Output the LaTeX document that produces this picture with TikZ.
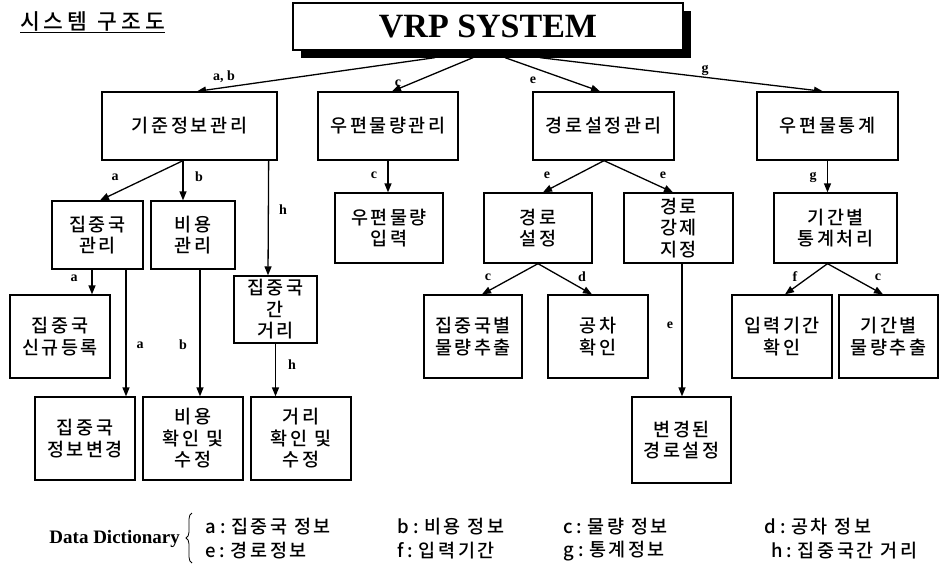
\documentclass[tikz,border=0pt]{standalone}
\usepackage{fontspec}
\setmainfont{Liberation Serif}
\newfontfamily\kr{Noto Sans CJK KR}[UprightFont=* Medium, LetterSpace=14]
\newfontfamily\krt{Noto Sans CJK KR}[UprightFont=* Medium, LetterSpace=18]
\newfontfamily\krd{Noto Sans CJK KR}[UprightFont=* Medium, LetterSpace=14]
\newfontfamily\krn{Noto Sans CJK KR}[UprightFont=* Medium]
\newcommand\dkey[1]{{\krn #1 : }}
\usetikzlibrary{arrows.meta,shadows,backgrounds,decorations.pathreplacing}
\begin{document}
\begin{tikzpicture}[x=1pt,y=-1pt,
  box/.style={draw, line width=1.3pt, fill=white, inner sep=0pt, align=center,
    font=\kr\fontsize{18.5}{21.5}\selectfont},
  arr/.style={line width=1.3pt, -{Triangle[length=9pt,width=7pt]}},
  lbl/.style={font=\bfseries\fontsize{14}{14}\selectfont, inner sep=0pt},
  dict/.style={anchor=west, inner sep=0pt, font=\krd\fontsize{18.5}{18.5}\selectfont}]
\useasboundingbox (0,0) rectangle (941,568);
% title
\node[font=\krt\fontsize{21.5}{21.5}\selectfont, inner sep=0pt, anchor=west] (title) at (20,21) {시스템\hspace{2pt} 구조도};
\draw[line width=1.3pt] ([yshift=-1.5pt]title.south west) -- ([yshift=-1.5pt]title.south east);
% top
\node[box, minimum width=390pt, minimum height=47pt,
  drop shadow={shadow xshift=8pt, shadow yshift=-8pt, fill=black, opacity=1},
  font=\bfseries\fontsize{34}{34}\selectfont] (vrp) at (488,26.5) {VRP SYSTEM};
% level 1
\node[box, minimum width=175pt, minimum height=68pt] (kijun) at (189.5,126) {기준정보관리};
\node[box, minimum width=140pt, minimum height=68pt] (upyeon) at (388,126) {우편물량관리};
\node[box, minimum width=141pt, minimum height=68pt] (kyeongro) at (603.5,126) {경로설정관리};
\node[box, minimum width=141pt, minimum height=68pt] (tonggye) at (827.5,126) {우편물통계};
% level 2
\node[box, minimum width=91pt, minimum height=68pt] (jjg) at (97.5,235) {집중국\\관리};
\node[box, minimum width=84pt, minimum height=68pt] (biyong) at (193,235) {비용\\관리};
\node[box, minimum width=83pt, minimum height=67pt] (geori) at (275.5,309.5) {집중국\\간\\거리};
\node[box, minimum width=108pt, minimum height=70pt] (input) at (389,228) {우편물량\\입력};
\node[box, minimum width=108pt, minimum height=70pt] (route) at (538,228) {경로\\설정};
\node[box, minimum width=109pt, minimum height=70pt] (force) at (678.5,228) {경로\\강제\\지정};
\node[box, minimum width=123pt, minimum height=70pt] (period) at (835.5,228) {기간별\\통계처리};
% level 3
\node[box, minimum width=100pt, minimum height=83pt] (newreg) at (60,336.5) {집중국\\신규등록};
\node[box, minimum width=100pt, minimum height=83pt] (jjgchg) at (85,438.5) {집중국\\정보변경};
\node[box, minimum width=100pt, minimum height=83pt] (biyongchk) at (193,438.5) {비용\\확인 및\\수정};
\node[box, minimum width=100pt, minimum height=83pt] (georichk) at (301,438.5) {거리\\확인 및\\수정};
\node[box, minimum width=98pt, minimum height=83pt] (jjgbyul) at (473,336.5) {집중국별\\물량추출};
\node[box, minimum width=100pt, minimum height=83pt] (gongcha) at (598,336.5) {공차\\확인};
\node[box, minimum width=99pt, minimum height=86pt] (changed) at (681.5,440) {변경된\\경로설정};
\node[box, minimum width=100pt, minimum height=83pt] (inputperiod) at (782,336.5) {입력기간\\확인};
\node[box, minimum width=99pt, minimum height=83pt] (kibyul) at (888.5,336.5) {기간별\\물량추출};
% connectors from the top box
\begin{pgfonlayer}{background}
\draw[arr] ([shift={(-53pt,-7pt)}]vrp.south) -- ([xshift=7.5pt]kijun.north);
\draw[arr] ([shift={(-15pt,-7pt)}]vrp.south) -- ([xshift=4pt]upyeon.north);
\draw[arr] ([shift={(17pt,-7pt)}]vrp.south) -- ([xshift=-3.5pt]kyeongro.north);
\draw[arr] ([shift={(52pt,-7pt)}]vrp.south) -- ([xshift=-4.5pt]tonggye.north);
\end{pgfonlayer}
% other connectors
\draw[arr] ([xshift=-6.5pt]kijun.south) -- ([xshift=2.5pt]jjg.north);
\draw[arr] ([xshift=-6.5pt]kijun.south) -- ([xshift=-10pt]biyong.north);
\draw[arr] ([xshift=-9pt]kijun.south east) -- ([xshift=-7.5pt]geori.north);
\draw[arr] (upyeon.south) -- (upyeon.south |- input.north);
\draw[arr] ([xshift=0.5pt]kyeongro.south) -- ([xshift=5pt]route.north);
\draw[arr] ([xshift=0.5pt]kyeongro.south) -- ([xshift=-5.5pt]force.north);
\draw[arr] (tonggye.south) -- (tonggye.south |- period.north);
\draw[arr] ([xshift=-5.5pt]jjg.south) -- ([xshift=32pt]newreg.north);
\draw[arr] ([xshift=28.5pt]jjg.south) -- ([xshift=41pt]jjgchg.north);
\draw[arr] ([xshift=7pt]biyong.south) -- ([xshift=7pt]biyongchk.north);
\draw[arr] (geori.south) -- (geori.south |- georichk.north);
\draw[arr] (route.south) -- ([xshift=9pt]jjgbyul.north);
\draw[arr] (route.south) -- ([xshift=-6pt]gongcha.north);
\draw[arr] ([xshift=3.5pt]force.south) -- ([xshift=0.5pt]changed.north);
\draw[arr] ([xshift=-8pt]period.south) -- ([xshift=3pt]inputperiod.north);
\draw[arr] ([xshift=-8pt]period.south) -- ([xshift=-5.5pt]kibyul.north);
% connector labels
\node[lbl] (l1) at (224,77) {a, b};
\node[lbl] (l2) at (398,83) {c};
\node[lbl] (l3) at (533,80) {e};
\node[lbl] (l4) at (705,70) {g};
\node[lbl] (l5) at (115,177) {a};
\node[lbl] (l6) at (199,177) {b};
\node[lbl] (l7) at (283,210) {h};
\node[lbl] (l8) at (374,175) {c};
\node[lbl] (l9) at (547,175) {e};
\node[lbl] (l10) at (663,175) {e};
\node[lbl] (l11) at (813,177) {g};
\node[lbl] (l12) at (74,278) {a};
\node[lbl] (l13) at (140,345) {a};
\node[lbl] (l14) at (183,345) {b};
\node[lbl] (l15) at (292,365) {h};
\node[lbl] (l16) at (488,277) {c};
\node[lbl] (l17) at (582,277) {d};
\node[lbl] (l18) at (670,325) {e};
\node[lbl] (l19) at (795,277) {f};
\node[lbl] (l20) at (878,277) {c};
% data dictionary
\node[font=\bfseries\fontsize{19}{19}\selectfont, anchor=east, inner sep=0pt] (dd) at (180,539) {Data Dictionary};
\coordinate (bb) at (192,563);
\coordinate (bt) at (192,513);
\draw[line width=0.8pt, decorate, decoration={brace, amplitude=6pt}] (bb) -- (bt);
\node[dict] (da) at (205,527) {\dkey{a}집중국 정보};
\node[dict] (db) at (397,527) {\dkey{b}비용 정보};
\node[dict] (dc) at (563,527) {\dkey{c}물량 정보};
\node[dict] (dd2) at (764,527) {\dkey{d}공차 정보};
\node[dict] (de) at (205,551) {\dkey{e}경로정보};
\node[dict] (df) at (397,551) {\dkey{f}입력기간};
\node[dict] (dg) at (563,551) {\dkey{g}통계정보};
\node[dict] (dh) at (771,551) {\dkey{h}집중국간 거리};
\end{tikzpicture}
\end{document}
